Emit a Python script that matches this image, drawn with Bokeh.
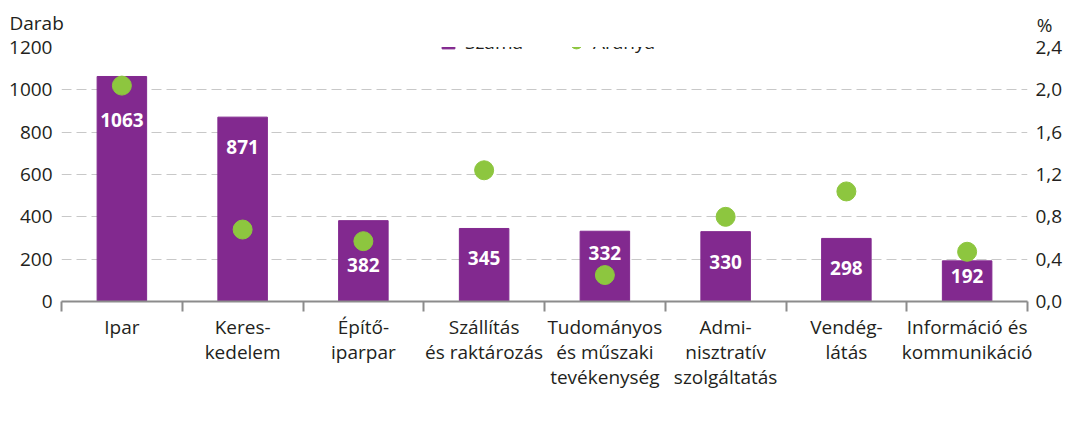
from bokeh.plotting import figure
from bokeh.models import (Range1d, LinearAxis, FixedTicker, CustomJSTickFormatter,
                          Legend, LegendItem, Title, ColumnDataSource)
from bokeh.embed import file_html
from bokeh.resources import INLINE
from bokeh.core.properties import value

categories = ["Ipar", "Keres-\nkedelem", "Építő-\niparpar", "Szállítás\nés raktározás",
              "Tudományos\nés műszaki\ntevékenység", "Admi-\nnisztratív\nszolgáltatás",
              "Vendég-\nlátás", "Információ és\nkommunikáció"]
szama = [1063, 871, 382, 345, 332, 330, 298, 192]
aranya = [2.04, 0.68, 0.57, 1.24, 0.25, 0.80, 1.04, 0.47]
left_ticks = [0, 200, 400, 600, 800, 1000, 1200]
right_ticks = [0.0, 0.4, 0.8, 1.2, 1.6, 2.0, 2.4]

# layout: pixel offset of the value label below the bar top
label_offsets_px = [44, 30, 44, 30, 22, 30, 30, 15]

PURPLE = "#82298f"
GREEN = "#8dc63f"
TXT = "#231f20"
AXIS = "#8c8c8c"
FONT = "Open Sans"
FS = "19px"

xs = list(range(1, len(categories) + 1))
src = ColumnDataSource(dict(x=xs, szama=szama, aranya=aranya,
                            lbl=[str(v) for v in szama], off=label_offsets_px))

p = figure(frame_width=966, frame_height=254, output_backend="svg", toolbar_location=None,
           x_range=Range1d(0.5, len(categories) + 0.5), y_range=Range1d(0, 1200),
           min_border_left=61, min_border_right=34, min_border_top=45, min_border_bottom=0)
p.outline_line_color = None
p.extra_y_ranges = {"pct": Range1d(0, 2.4)}

bars = p.vbar(x="x", top="szama", width=0.41, color=PURPLE, source=src)
dots = p.ellipse(x="x", y="aranya", width=19, height=19, width_units="screen",
                 height_units="screen", color=GREEN, y_range_name="pct", source=src)
p.text(x="x", y="szama", text="lbl", y_offset="off", source=src,
       text_font=value(FONT), text_font_style="bold", text_font_size="19px",
       text_color="white", text_align="center", text_baseline="middle")

# grid
p.xgrid.grid_line_color = None
p.ygrid.ticker = FixedTicker(ticks=left_ticks)
p.ygrid.grid_line_color = "#c8c8c8"
p.ygrid.grid_line_dash = "10 5"
p.ygrid.grid_line_width = 1

# left axis
ya = p.yaxis[0]
ya.ticker = FixedTicker(ticks=left_ticks)
ya.axis_line_color = None
ya.major_tick_line_color = None
ya.major_tick_out = 0
ya.minor_tick_line_color = None
ya.major_label_standoff = 9
ya.major_label_text_font = FONT
ya.major_label_text_font_size = FS
ya.major_label_text_color = TXT

# right axis
ra = LinearAxis(y_range_name="pct", ticker=FixedTicker(ticks=right_ticks),
                formatter=CustomJSTickFormatter(code="return tick.toFixed(1).replace('.', ',');"))
ra.axis_line_color = None
ra.major_tick_line_color = None
ra.major_tick_out = 0
ra.minor_tick_line_color = None
ra.major_label_standoff = 8
ra.major_label_text_font = FONT
ra.major_label_text_font_size = FS
ra.major_label_text_color = TXT
p.add_layout(ra, "right")

# bottom axis
xa = p.xaxis[0]
xa.ticker = FixedTicker(ticks=xs, minor_ticks=[x - 0.5 for x in xs] + [xs[-1] + 0.5])
xa.major_label_overrides = {x: c for x, c in zip(xs, categories)}
xa.major_tick_line_color = None
xa.major_tick_out = 0
xa.major_tick_in = 0
xa.minor_tick_in = 0
xa.minor_tick_out = 10
xa.minor_tick_line_color = AXIS
xa.minor_tick_line_width = 2
xa.axis_line_color = AXIS
xa.axis_line_width = 2
xa.major_label_standoff = 2
xa.major_label_text_font = FONT
xa.major_label_text_font_size = FS
xa.major_label_text_line_height = 0.97
xa.major_label_text_color = TXT

# axis titles (two title rows pulled onto one line)
t_pct = Title(text="%", align="right", offset=-25, text_font=FONT, text_font_size=FS,
              text_color=TXT, text_font_style="normal", standoff=19)
p.add_layout(t_pct, "above")
t_darab = Title(text="Darab", align="left", offset=-52, text_font=FONT, text_font_size=FS,
                text_color=TXT, text_font_style="normal", standoff=-71)
p.add_layout(t_darab, "above")

legend = Legend(items=[LegendItem(label="Száma", renderers=[bars]),
                       LegendItem(label="Aránya", renderers=[dots])],
                orientation="horizontal", location=(379, 246))
legend.border_line_color = None
legend.background_fill_color = "white"
legend.background_fill_alpha = 1
legend.label_text_font = FONT
legend.label_text_font_size = FS
legend.label_text_color = TXT
legend.glyph_width = 16
legend.glyph_height = 16
legend.label_height = 16
legend.spacing = 45
legend.label_standoff = 9
legend.margin = 0
legend.padding = 2
p.add_layout(legend)

open("out.html", "w").write(file_html(p, INLINE))
